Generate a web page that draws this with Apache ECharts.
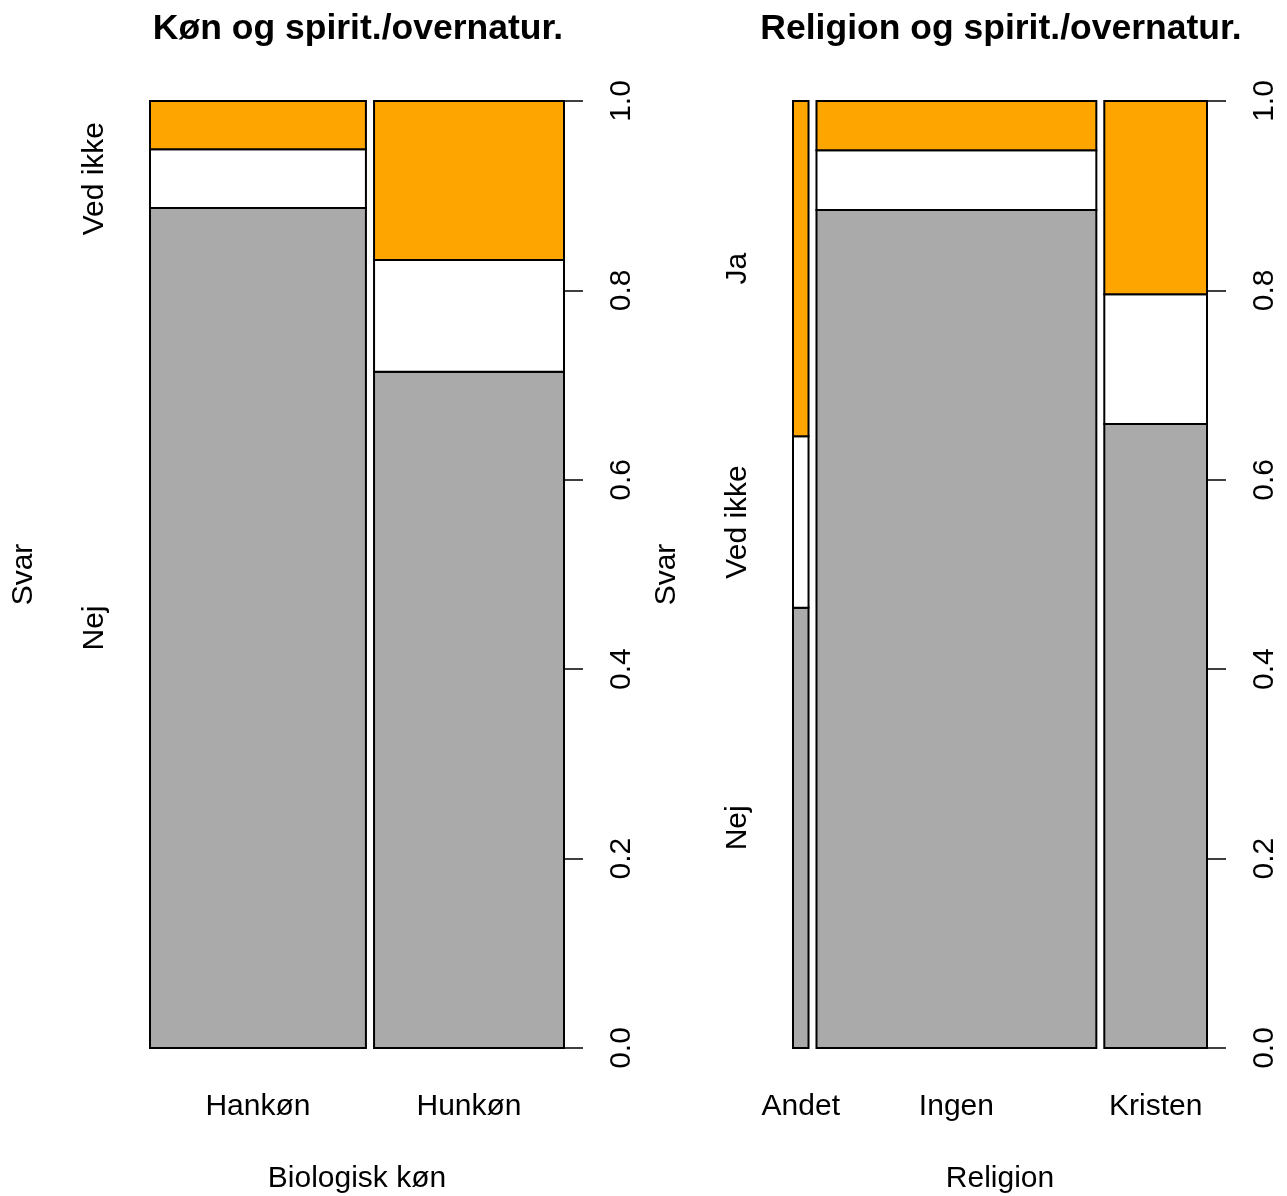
<!DOCTYPE html>
<html>
<head>
<meta charset="utf-8">
<script src="https://cdn.jsdelivr.net/npm/echarts@6/dist/echarts.min.js"></script>
<style>
html,body{margin:0;padding:0;background:#fff;}
#chart{width:1287px;height:1196px;}
</style>
</head>
<body>
<div id="chart"></div>
<script>
// ---- Data ----
const svarLevels = ['Nej', 'Ved ikke', 'Ja'];
const levelColors = ['#AAAAAA', '#FFFFFF', '#FFA500'];

const sexCats = ['Hankøn', 'Hunkøn'];
const sexWidths = [0.532, 0.468];          // share of respondents per column
const sexNej = [0.887, 0.714];
const sexVedIkke = [0.062, 0.118];
const sexJa = [0.051, 0.168];

const relCats = ['Andet', 'Ingen', 'Kristen'];
const relWidths = [0.039, 0.703, 0.258];
const relNej = [0.465, 0.885, 0.659];
const relVedIkke = [0.181, 0.063, 0.137];
const relJa = [0.354, 0.052, 0.204];

const yTicks = [0, 0.2, 0.4, 0.6, 0.8, 1.0];

const titles = ['Køn og spirit./overnatur.', 'Religion og spirit./overnatur.'];
const xNames = ['Biologisk køn', 'Religion'];
const yName = 'Svar';

// ---- Helpers ----
const OFF = 0.02;
const FONT = "'Liberation Sans', Arial, Helvetica, sans-serif";
const FS = 30;

function buildPanel(widths, levelsData) {
  const rects = [];
  const centers = [];
  let x = 0;
  for (let i = 0; i < widths.length; i++) {
    const x0 = x, x1 = x + widths[i];
    centers.push((x0 + x1) / 2);
    let y = 0;
    for (let l = 0; l < levelsData.length; l++) {
      const v = levelsData[l][i];
      rects.push([x0, x1, y, y + v, l]);
      y += v;
    }
    x = x1 + OFF;
  }
  // label positions: midpoints of the first column's segments
  const mids = [];
  let y = 0;
  for (let l = 0; l < levelsData.length; l++) {
    const v = levelsData[l][0];
    mids.push(y + v / 2);
    y += v;
  }
  return { rects, centers, mids, xmax: 1 + OFF * (widths.length - 1) };
}

const measureCtx = document.createElement('canvas').getContext('2d');
measureCtx.font = FS + 'px ' + FONT;
// drop labels that would overlap (like R's axis)
function visibleLabels(mids, plotHeightPx) {
  const keep = [];
  let lastEnd = -Infinity;
  for (let l = 0; l < mids.length; l++) {
    const half = measureCtx.measureText(svarLevels[l]).width / 2;
    const c = mids[l] * plotHeightPx;
    if (c - half > lastEnd + 4) {
      keep.push(l);
      lastEnd = c + half;
    }
  }
  return keep;
}

const plotH = 947;
const left = buildPanel(sexWidths, [sexNej, sexVedIkke, sexJa]);
const right = buildPanel(relWidths, [relNej, relVedIkke, relJa]);
const leftKeep = visibleLabels(left.mids, plotH);
const rightKeep = visibleLabels(right.mids, plotH);

function nearestIdx(arr, v) {
  let best = 0, bd = Infinity;
  arr.forEach((a, i) => { const d = Math.abs(a - v); if (d < bd) { bd = d; best = i; } });
  return best;
}

function renderRect(params, api) {
  const p0 = api.coord([api.value(0), api.value(2)]);
  const p1 = api.coord([api.value(1), api.value(3)]);
  return {
    type: 'rect',
    shape: { x: p0[0], y: p1[1], width: p1[0] - p0[0], height: p0[1] - p1[1] },
    style: { fill: levelColors[api.value(4)], stroke: '#000', lineWidth: 2 }
  };
}

const grids = [
  { left: 150, right: 1287 - 564, top: 101, bottom: 1196 - 1048, outerBoundsMode: 'none', containLabel: false },
  { left: 793, right: 1287 - 1207, top: 101, bottom: 1196 - 1048, outerBoundsMode: 'none', containLabel: false }
];

function xAxisFor(gi, panel, cats) {
  return {
    type: 'value', gridIndex: gi, min: 0, max: panel.xmax,
    axisLine: { show: false }, axisTick: { show: false }, splitLine: { show: false },
    axisLabel: {
      customValues: panel.centers,
      formatter: v => cats[nearestIdx(panel.centers, v)],
      color: '#000', fontFamily: FONT, fontSize: FS, margin: 44
    },
    name: xNames[gi], nameLocation: 'middle', nameGap: 116,
    nameTextStyle: { color: '#000', fontFamily: FONT, fontSize: FS }
  };
}

function yLabelAxis(gi, panel, keep) {
  const vals = keep.map(l => panel.mids[l]);
  return {
    type: 'value', gridIndex: gi, position: 'left', min: 0, max: 1,
    axisLine: { show: false }, axisTick: { show: false }, splitLine: { show: false },
    axisLabel: {
      customValues: vals,
      formatter: v => svarLevels[keep[nearestIdx(vals, v)]],
      rotate: 90, color: '#000', fontFamily: FONT, fontSize: FS, margin: 40
    },
    name: yName, nameLocation: 'middle', nameGap: 111,
    nameTextStyle: { color: '#000', fontFamily: FONT, fontSize: FS }
  };
}

function yTickAxis(gi) {
  return {
    type: 'value', gridIndex: gi, position: 'right', min: 0, max: 1, interval: 0.2,
    axisLine: { show: true, lineStyle: { color: '#000', width: 1.5 } },
    axisTick: { show: true, inside: false, length: 19, customValues: yTicks, lineStyle: { color: '#000', width: 1.5 } },
    splitLine: { show: false },
    axisLabel: {
      customValues: yTicks,
      formatter: v => v.toFixed(1),
      rotate: 90, color: '#000', fontFamily: FONT, fontSize: FS, margin: 43
    }
  };
}

const option = {
  backgroundColor: '#fff',
  animation: false,
  title: [
    { text: titles[0], left: 353, top: 6, textAlign: 'center',
      textStyle: { fontFamily: FONT, fontSize: 35.5, fontWeight: 'bold', color: '#000' } },
    { text: titles[1], left: 996, top: 6, textAlign: 'center',
      textStyle: { fontFamily: FONT, fontSize: 35.5, fontWeight: 'bold', color: '#000' } }
  ],
  grid: grids,
  xAxis: [xAxisFor(0, left, sexCats), xAxisFor(1, right, relCats)],
  yAxis: [yLabelAxis(0, left, leftKeep), yTickAxis(0), yLabelAxis(1, right, rightKeep), yTickAxis(1)],
  series: [
    { type: 'custom', xAxisIndex: 0, yAxisIndex: 1, renderItem: renderRect,
      encode: { x: [0, 1], y: [2, 3] }, data: left.rects, silent: true },
    { type: 'custom', xAxisIndex: 1, yAxisIndex: 3, renderItem: renderRect,
      encode: { x: [0, 1], y: [2, 3] }, data: right.rects, silent: true }
  ]
};

const chart = echarts.init(document.getElementById('chart'), null, { renderer: 'canvas' });
chart.setOption(option);
</script>
</body>
</html>
